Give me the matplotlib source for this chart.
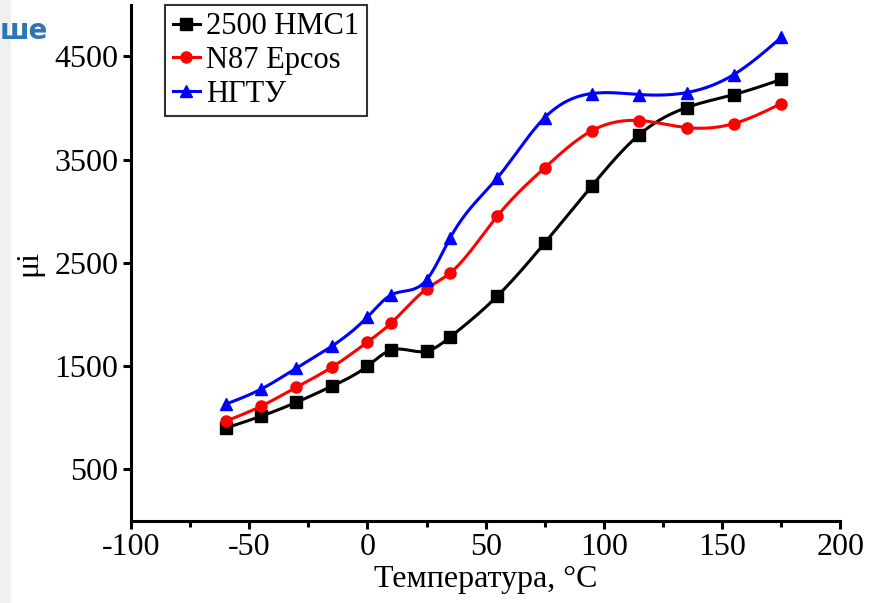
import numpy as np
import matplotlib
matplotlib.use('Agg')
import matplotlib.pyplot as plt
from matplotlib.ticker import MultipleLocator

# Data
temp = [-60, -45, -30, -15, 0, 10, 25, 35, 55, 75, 95, 115, 135, 155, 175]
mu_hmc = [900, 1015, 1150, 1306, 1500, 1655, 1645, 1782, 2180, 2694, 3248, 3743, 4005, 4131, 4277]
mu_n87 = [966, 1112, 1296, 1490, 1733, 1917, 2248, 2403, 2956, 3422, 3782, 3879, 3811, 3850, 4044]
mu_ngtu = [1131, 1277, 1481, 1694, 1976, 2189, 2335, 2743, 3325, 3908, 4141, 4131, 4150, 4325, 4684]
labels = ['2500 HMC1', 'N87 Epcos', 'НГТУ']


# natural cubic spline, only used to draw the smooth connecting line
def spline(x, y, n=400):
    x = np.asarray(x, float)
    y = np.asarray(y, float)
    k = len(x)
    h = np.diff(x)
    A = np.zeros((k, k))
    b = np.zeros(k)
    A[0, 0] = A[-1, -1] = 1
    for i in range(1, k - 1):
        A[i, i - 1] = h[i - 1]
        A[i, i] = 2 * (h[i - 1] + h[i])
        A[i, i + 1] = h[i]
        b[i] = 6 * ((y[i + 1] - y[i]) / h[i] - (y[i] - y[i - 1]) / h[i - 1])
    m = np.linalg.solve(A, b)
    xs = np.linspace(x[0], x[-1], n)
    idx = np.clip(np.searchsorted(x, xs) - 1, 0, k - 2)
    x0, x1 = x[idx], x[idx + 1]
    hh = x1 - x0
    t0, t1 = x1 - xs, xs - x0
    ys = (m[idx] * t0**3 + m[idx + 1] * t1**3) / (6 * hh) \
        + (y[idx] / hh - m[idx] * hh / 6) * t0 \
        + (y[idx + 1] / hh - m[idx + 1] * hh / 6) * t1
    return xs, ys


plt.rcParams['font.family'] = ['Liberation Serif', 'DejaVu Serif']
plt.rcParams['axes.unicode_minus'] = False

fig = plt.figure(figsize=(8.79, 6.03), dpi=100)
fig.patches.append(plt.Rectangle((0, 0), 10 / 879, 1, transform=fig.transFigure,
                                 color='#f0f0f0', zorder=0))
fig.text(0.0, 0.948, 'ше', color='#2e75b6', fontsize=20, fontweight='bold',
         family='DejaVu Sans', va='center', ha='left')

ax = fig.add_axes([0.149, 0.136, 0.807, 0.856])

series = [(mu_hmc, 'black', 's'), (mu_n87, 'red', 'o'), (mu_ngtu, 'blue', '^')]
for (vals, col, mk), lab in zip(series, labels):
    xs, ys = spline(temp, vals)
    ax.plot(xs, ys, color=col, lw=2.2)
    ax.plot(temp, vals, ls='none', marker=mk, color=col, markersize=8)
    ax.plot([], [], color=col, lw=2.2, marker=mk, markersize=8, label=lab)

ax.set_xlim(-100, 200)
ax.set_ylim(0, 5000)
ax.set_xticks([-100, -50, 0, 50, 100, 150, 200])
ax.xaxis.set_minor_locator(MultipleLocator(25))
ax.set_yticks([500, 1500, 2500, 3500, 4500])

for s in ['top', 'right']:
    ax.spines[s].set_visible(False)
for s in ['left', 'bottom']:
    ax.spines[s].set_linewidth(2.2)
ax.tick_params(which='major', direction='out', length=6, width=2.2, labelsize=23, pad=3)
ax.tick_params(which='minor', direction='out', length=4, width=2.2)

ax.set_xlabel('Температура, °C', fontsize=23, labelpad=2)
ax.set_ylabel('μi', fontsize=23, labelpad=8)

leg = ax.legend(loc='upper left', bbox_to_anchor=(0.048, 1.0), fontsize=22,
                frameon=True, fancybox=False, edgecolor='black', handlelength=0.9,
                handletextpad=0.2, borderpad=0.25, labelspacing=0.15, borderaxespad=0)
leg.get_frame().set_linewidth(1.5)

fig.savefig('out.png', dpi=100)
